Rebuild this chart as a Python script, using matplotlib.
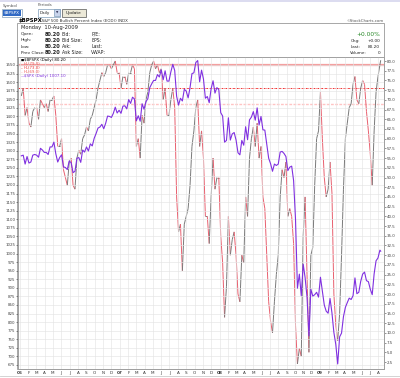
import datetime as dt
import numpy as np
import pandas as pd
import matplotlib
matplotlib.use("Agg")
import matplotlib.pyplot as plt
import matplotlib.dates as mdates
from matplotlib.collections import LineCollection
from matplotlib.patches import Rectangle
from matplotlib.lines import Line2D

plt.rcParams['font.family'] = ['DejaVu Sans']

# ---------------- data (weekly) ----------------
week_dates = list(pd.date_range('2006-01-06', '2009-08-07', freq='W-FRI')) + [pd.Timestamp('2009-08-10')]

spx_2006 = [1285, 1287, 1261, 1283, 1264, 1267, 1287, 1289, 1287, 1281, 1307, 1302, 1295,
            1295, 1289, 1311, 1311, 1325, 1291, 1267, 1280, 1288, 1253, 1251, 1245, 1270,
            1265, 1236, 1240, 1278, 1280, 1266, 1302, 1296, 1311, 1299, 1320, 1314, 1336,
            1350, 1366, 1369, 1377, 1364, 1380, 1401, 1400, 1397, 1409, 1427, 1410, 1418]
spx_2007 = [1409, 1430, 1431, 1422, 1449, 1438, 1456, 1451, 1387, 1402, 1386, 1437, 1421,
            1443, 1452, 1484, 1495, 1505, 1505, 1522, 1515, 1536, 1507, 1533, 1503, 1503,
            1530, 1552, 1534, 1459, 1433, 1453, 1445, 1479, 1474, 1454, 1484, 1525, 1527,
            1557, 1563, 1501, 1535, 1509, 1453, 1458, 1440, 1481, 1504, 1468, 1484, 1478]
spx_2008 = [1411, 1401, 1325, 1330, 1396, 1331, 1349, 1353, 1331, 1294, 1288, 1330, 1316,
            1370, 1332, 1390, 1398, 1414, 1389, 1425, 1375, 1400, 1361, 1360, 1318, 1278,
            1262, 1240, 1261, 1257, 1261, 1296, 1298, 1292, 1283, 1242, 1252, 1255, 1213,
            1100, 899, 940, 877, 969, 930, 873, 760, 896, 876, 880, 887, 873]
spx_2009 = [931, 890, 850, 832, 826, 869, 827, 770, 735, 678, 757, 768, 816,
            843, 857, 870, 866, 877, 929, 883, 887, 919, 940, 946, 921, 918,
            896, 880, 941, 979, 987, 1010, 1007]

bp_2006 = [71, 73, 66, 68, 64, 63, 67, 68, 68, 65, 70, 69, 68,
           69, 67, 70, 70, 71, 66, 58, 58, 60, 52, 50, 48, 54,
           55, 48, 47, 55, 57, 56, 60, 61, 63, 62, 65, 66, 68,
           70, 73, 75, 77, 76, 77, 79, 79, 78, 79, 80, 77, 77]
bp_2007 = [73, 76, 76, 74, 77, 77, 79, 78, 58, 60, 55, 66, 64,
           70, 72, 77, 79, 80, 78, 79, 77, 78, 70, 73, 66, 66,
           70, 73, 68, 45, 36, 38, 26, 38, 40, 42, 48, 58, 62,
           68, 70, 58, 62, 55, 40, 40, 33, 45, 55, 47, 50, 50]
bp_2008 = [35, 28, 14, 22, 40, 30, 34, 36, 30, 20, 18, 30, 28,
           45, 40, 55, 60, 63, 58, 64, 55, 58, 45, 42, 30, 18,
           13, 10, 18, 25, 30, 45, 52, 50, 54, 40, 42, 40, 33,
           12, 2, 6, 4, 35, 45, 25, 5, 30, 32, 48, 60, 62]
bp_2009 = [72, 60, 50, 45, 47, 54, 46, 20, 12, 8, 15, 30, 47,
           60, 64, 68, 69, 74, 76, 70, 69, 73, 75, 74, 67, 62,
           56, 48, 62, 72, 76, 79, 80.2]

spx_close = spx_2006 + spx_2007 + spx_2008 + spx_2009
bp_values = bp_2006 + bp_2007 + bp_2008 + bp_2009

hl_levels = [79.0, 73.0, 69.0]
spx_ticks = list(range(675, 1551, 25))
bp_ticks = [2.5 * i for i in range(1, 33)]
month_initials = "JFMAMJJASOND"

# ---------------- figure ----------------
W, H = 400, 378
fig = plt.figure(figsize=(4, 3.78), dpi=100)
fig.patch.set_facecolor('white')

def fx(x):
    return x / W

def fy(y):
    return 1 - y / H

def rect(x0, y0, x1, y1, fc, ec='none', lw=0.5, z=1):
    fig.add_artist(Rectangle((fx(x0), fy(y1)), (x1 - x0) / W, (y1 - y0) / H,
                             transform=fig.transFigure, facecolor=fc,
                             edgecolor=ec, linewidth=lw, zorder=z))

def txt(x, y, s, size=3.3, **kw):
    kw.setdefault('va', 'center')
    kw.setdefault('color', '#222222')
    fig.text(fx(x), fy(y), s, fontsize=size, **kw)

# top strip
rect(0, 0, 400, 2, '#dcdcf0')
# form controls
txt(3, 5.5, 'Symbol', 2.9, color='#555555')
txt(38, 5.5, 'Periods', 2.9, color='#555555')
rect(2, 9, 22, 16.5, 'white', '#7f9db9')
rect(3, 10, 20.5, 15.5, '#316ac5')
txt(3.5, 12.8, '$BPSPX', 3.0, color='white')
rect(38, 9, 60, 16.5, 'white', '#7f9db9')
txt(39.5, 12.8, 'Daily', 3.0)
rect(54, 9.5, 59.5, 16, '#c8d4ec', '#7f9db9')
txt(56.7, 12.8, '\u25bc', 2.2, ha='center', color='#333355')
rect(62, 8.5, 86, 16.5, '#ece9d8', '#555555')
txt(74, 12.6, 'Update', 3.2, ha='center')

# title
txt(19, 20.5, '$BPSPX', 3.9, fontweight='bold', color='#000000')
txt(40, 20.5, '(S&P 500 Bullish Percent Index (EOD)) INDX', 2.85, color='#333333')
txt(383.5, 21, '\u00a9StockCharts.com', 2.8, ha='right', color='#555555')

# info box frame
rect(17, 23, 384, 369, 'none', '#999999', 0.6, z=0)

txt(21, 28, 'Monday  10-Aug-2009', 3.7)
rows_y = [34, 40.5, 47, 53]
for lab, y in zip(['Open:', 'High:', 'Low:', 'Prev Close:'], rows_y):
    txt(21, y, lab, 3.1)
    txt(45, y, '80.20', 3.6, fontweight='bold')
for lab, y in zip(['Bid:', 'Bid Size:', 'Ask:', 'Ask Size:'], rows_y):
    txt(62, y, lab, 3.3)
for lab, y in zip(['P/E:', 'EPS:', 'Last:', 'VWAP:'], rows_y):
    txt(91, y, lab, 3.3)

txt(380, 34, '+0.00%', 4.2, ha='right', color='#2a8a2a')
txt(351, 41, 'Chg:', 3.0)
txt(380, 41, '+0.00', 3.1, ha='right')
txt(351, 47, 'Last:', 3.0)
txt(380, 47, '80.20', 3.1, ha='right')
txt(350, 53, 'Volume:', 3.0)
txt(380, 53, '0', 3.1, ha='right')

# bottom rule
fig.add_artist(Line2D([0, 1], [fy(376), fy(376)], transform=fig.transFigure,
                      color='#cccccc', lw=0.6))

# ---------------- chart ----------------
ax = fig.add_axes([fx(18), fy(369), (384 - 18) / W, (369 - 57) / H])
ax2 = ax.twinx()
ax.set_zorder(ax2.get_zorder() + 1)
ax.patch.set_visible(False)
ax2.patch.set_facecolor('white')

xnum = mdates.date2num(week_dates)
x0 = mdates.date2num(dt.datetime(2005, 12, 25))
x1 = mdates.date2num(dt.datetime(2009, 8, 22))

# BPSPX line, coloured by direction
pts = np.column_stack([xnum, bp_values])
segs = np.stack([pts[:-1], pts[1:]], axis=1)
diffs = np.diff(np.array(bp_values, dtype=float))
cols = ['#7a7a7a' if d >= 0 else '#e8606f' for d in diffs]
lc = LineCollection(segs, colors=cols, linewidths=0.7, zorder=3)
ax2.add_collection(lc)

# horizontal lines
ax2.axhline(hl_levels[0], color='#f4a0a0', lw=1.6, zorder=2)
ax2.axhline(hl_levels[1], color='#ee1111', lw=0.6, ls=(0, (2, 1, 0.6, 1)), zorder=2)
ax2.axhline(hl_levels[2], color='#ffc4c4', lw=1.0, ls=(0, (2, 1)), zorder=2)

# SPX line
ax.plot(xnum, spx_close, color='#8030e0', lw=0.8, zorder=4)

ax.set_xlim(x0, x1)
ax.set_ylim(663.3, 1573.3)
ax2.set_ylim(0.70, 81.03)

# ticks
month_starts = pd.date_range('2006-01-01', '2009-08-01', freq='MS')
mnum = mdates.date2num(month_starts)
labels = [("%02d" % (d.year % 100)) if d.month == 1 else month_initials[d.month - 1]
          for d in month_starts]
ax.set_xticks(mnum)
ax.set_xticklabels(labels)
for lab, d in zip(ax.get_xticklabels(), month_starts):
    if d.month == 1:
        lab.set_fontweight('bold')
ax.tick_params(axis='x', labelsize=3.0, length=0, pad=1.2, colors='#333333')

ax.set_yticks(spx_ticks)
ax.set_yticklabels([str(v) for v in spx_ticks])
ax.tick_params(axis='y', labelsize=2.9, length=1.2, width=0.4, pad=0.8,
               colors='#444444')
ax2.set_yticks(bp_ticks)
ax2.set_yticklabels(["%.1f" % v for v in bp_ticks])
ax2.tick_params(axis='y', labelsize=2.9, length=1.2, width=0.4, pad=0.8,
                colors='#444444')

ax.grid(True, color='#e4e4e4', lw=0.45, zorder=0)
ax.set_axisbelow(True)
for a in (ax, ax2):
    for s in a.spines.values():
        s.set_color('#a0a0a0')
        s.set_linewidth(0.6)

# legend (manual)
lx = 21
txt(lx, 60, '\u25a0', 2.4, color='#000000')
txt(lx + 3, 60, '$BPSPX (Daily) 80.20', 2.8, color='#000000')
txt(lx, 64, '--', 2.8, color='#f08080')
txt(lx + 3, 64, 'HL(%.1f)' % hl_levels[0], 2.8, color='#ee5555')
txt(lx, 68, '--', 2.8, color='#ee1111')
txt(lx + 3, 68, 'HL(%.1f)' % hl_levels[1], 2.8, color='#ee3333')
txt(lx, 72, '--', 2.8, color='#ff9999')
txt(lx + 3, 72, 'HL(%.1f)' % hl_levels[2], 2.8, color='#ee5555')
txt(lx, 76, '\u2014', 2.8, color='#8030e0')
txt(lx + 3, 76, '$SPX (Daily) 1007.10', 2.8, color='#8030e0')

fig.savefig('out.png', dpi=100, facecolor='white')
